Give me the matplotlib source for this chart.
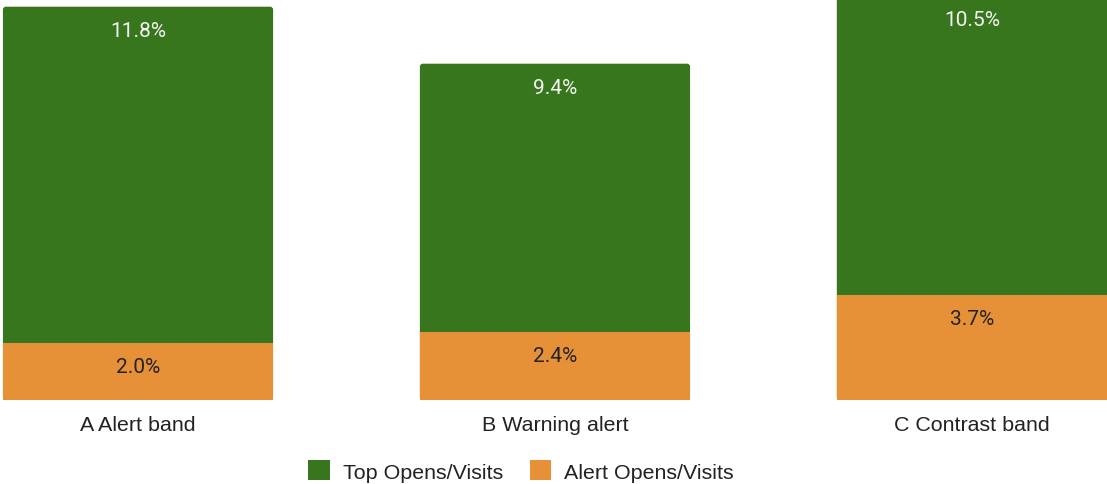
import matplotlib.pyplot as plt
from matplotlib.patches import FancyBboxPatch, Patch

plt.rcParams['font.family'] = ['Liberation Sans', 'DejaVu Sans']

categories = ["A Alert band", "B Warning alert", "C Contrast band"]
alert_rate = [2.0, 2.4, 3.7]
top_rate = [11.8, 9.4, 10.5]
series_names = ["Top Opens/Visits", "Alert Opens/Visits"]

GREEN = "#38761d"
ORANGE = "#e69138"
VALUE_FONT = ['Roboto', 'DejaVu Sans']

W, H, DPI = 1107, 485, 100
fig = plt.figure(figsize=(W / DPI, H / DPI), dpi=DPI)
ax = fig.add_axes([0, 84 / H, 1, 1 - 84 / H])
ymax = 14.07
ax.set_xlim(-0.331, 2.324)
ax.set_ylim(0, ymax)
ax.axis('off')

width = 0.648
px_x = 1 / 417           # data units per pixel, x
px_y = ymax / 401        # data units per pixel, y
for i, (a, t) in enumerate(zip(alert_rate, top_rate)):
    total = a + t
    # green segment with rounded top corners, extended under the orange one
    box = FancyBboxPatch((i - width / 2, 0), width, total,
                         boxstyle=f"round,pad=0,rounding_size={3 * px_x}",
                         mutation_aspect=px_y / px_x,
                         fc=GREEN, ec="none", clip_on=True)
    ax.add_patch(box)
    ax.bar(i, a, width=width, color=ORANGE, edgecolor="none")

    vis_top = min(total, ymax)
    off = 24 if total < ymax else 21
    ax.annotate(f"{t:.1f}%", (i, vis_top), xytext=(0, -off), textcoords="offset pixels",
                ha="center", va="center", color="#f3f3f3", fontsize=15,
                family=VALUE_FONT)
    ax.annotate(f"{a:.1f}%", (i, a), xytext=(0, -24), textcoords="offset pixels",
                ha="center", va="center", color="#222222", fontsize=15,
                family=VALUE_FONT)
    ax.annotate(categories[i], (i, 0), xytext=(0, -25), textcoords="offset pixels",
                ha="center", va="center", color="#222222", fontsize=15.4,
                annotation_clip=False)

handles = [Patch(fc=GREEN, ec="none"), Patch(fc=ORANGE, ec="none")]
fig.legend(handles, series_names, loc="center", bbox_to_anchor=(521 / W, 13 / H),
           ncol=2, frameon=False, fontsize=15.4, handlelength=1.02, handleheight=1.02,
           handletextpad=0.6, columnspacing=1.25, labelcolor="#222222")

fig.savefig("out.png", dpi=DPI)
